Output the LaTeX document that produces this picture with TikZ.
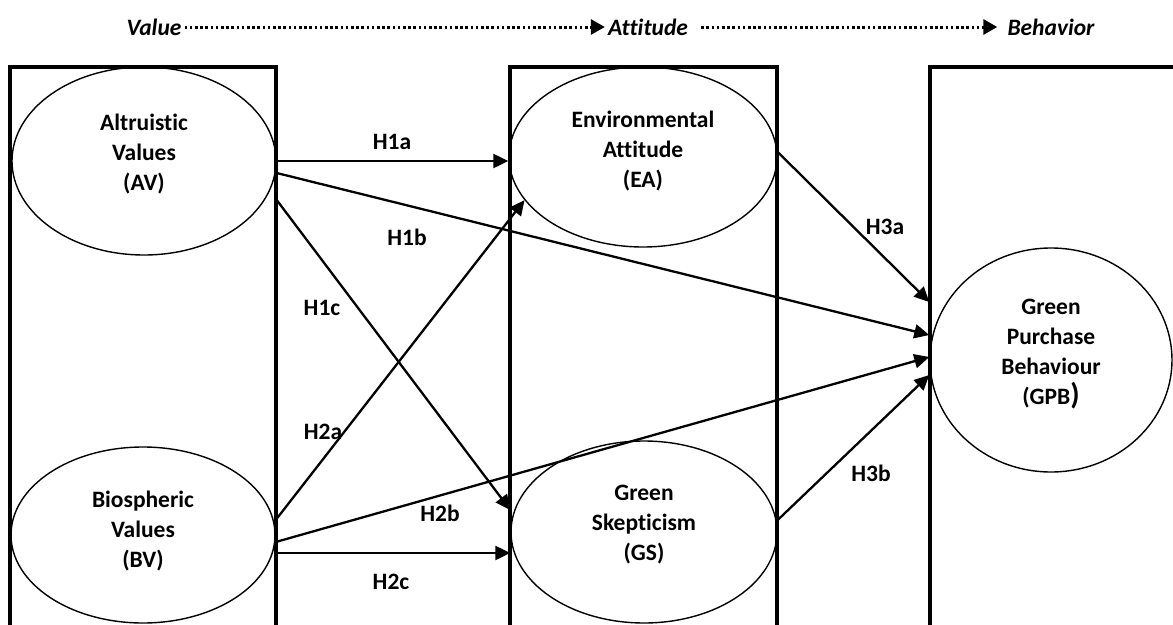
\documentclass[tikz,border=0pt]{standalone}
\usepackage{fontspec}
\setmainfont{Carlito}[Ligatures=NoCommon]
\usetikzlibrary{shapes.geometric,arrows.meta}
\newcommand{\hypfont}{\fontsize{23.5}{30}\selectfont\bfseries}

\begin{document}
\begin{tikzpicture}[x=1pt,y=-1pt,
        box/.style={line width=3.5pt},
        construct/.style={ellipse, draw, line width=1.4pt, inner sep=0pt},
        name text/.style={font=\hypfont, align=center},
        hyp/.style={font=\hypfont},
        link/.style={line width=2.3pt, -{Triangle[length=15pt,width=14pt]}},
        flow/.style={line width=3pt, dash pattern=on 2.6pt off 2.6pt, -{Triangle[length=14pt,width=15pt]}},
        stage/.style={font=\hypfont\itshape, inner sep=0pt}]

        \useasboundingbox (0,0) rectangle (1173,624);

        % Stages on top
        \node[stage] (value) at (154,27) {Value};
        \node[stage] (attitude) at (648,27) {Attitude};
        \node[stage] (behavior) at (1051,27) {Behavior};
        \draw[flow, shorten <=3pt, shorten >=3pt] (value) -- (attitude);
        \draw[flow, shorten <=13pt, shorten >=10pt] (attitude) -- (behavior);

        % Columns (open at the bottom)
        \draw[box] (10,640) |- (276,67) -- (276,640);
        \draw[box] (510,640) |- (777,67) -- (777,640);
        \draw[box] (930,640) |- (1190,67);

        % Constructs
        \node[construct, minimum width=264pt, minimum height=188pt,
            label={[name text, yshift=7pt]center:Altruistic\\Values\\(AV)}] (av) at (144,161) {};
        \node[construct, minimum width=264pt, minimum height=176pt,
            label={[name text, yshift=4pt]center:Biospheric\\Values\\(BV)}] (bv) at (143,535) {};
        \node[construct, minimum width=268pt, minimum height=180pt,
            label={[name text, yshift=6pt]center:Environmental\\Attitude\\(EA)}] (ea) at (643,157) {};
        \node[construct, minimum width=266pt, minimum height=182pt,
            label={[name text, yshift=7pt]center:Green\\Skepticism\\(GS)}] (gs) at (644,532) {};
        \node[construct, minimum width=242pt, minimum height=224pt,
            label={[name text, yshift=6pt]center:Green\\Purchase\\Behaviour\\(GPB{\fontsize{30}{30}\selectfont)}}] (gpb) at (1051,360) {};

        % Hypothesised paths
        \draw[link] (av.east) -- (av.east -| ea.west);
        \draw[link] ([yshift=-12pt]av.east) -- ([yshift=25pt]gpb.west);
        \draw[link] ([yshift=-39pt]av.east) -- ([yshift=22pt]gs.west);
        \draw[link] ([yshift=15pt]bv.east) -- (ea.200);
        \draw[link] ([yshift=-7pt]bv.east) -- ([yshift=3pt]gpb.west);
        \draw[link] ([yshift=-18pt]bv.east) -- ([yshift=-18pt]bv.east -| gs.west);
        \draw[link] ([yshift=5pt]ea.east) -- ([yshift=58pt]gpb.west);
        \draw[link] ([yshift=12pt]gs.east) -- ([yshift=-15pt]gpb.west);

        % Path labels
        \node[hyp] (h1a) at (392,142) {H1a};
        \node[hyp] (h1b) at (407,237) {H1b};
        \node[hyp] (h1c) at (322,308) {H1c};
        \node[hyp] (h2a) at (323,432) {H2a};
        \node[hyp] (h2b) at (440,513) {H2b};
        \node[hyp] (h2c) at (391,582) {H2c};
        \node[hyp] (h3a) at (885,227) {H3a};
        \node[hyp] (h3b) at (871,473) {H3b};
\end{tikzpicture}
\end{document}
